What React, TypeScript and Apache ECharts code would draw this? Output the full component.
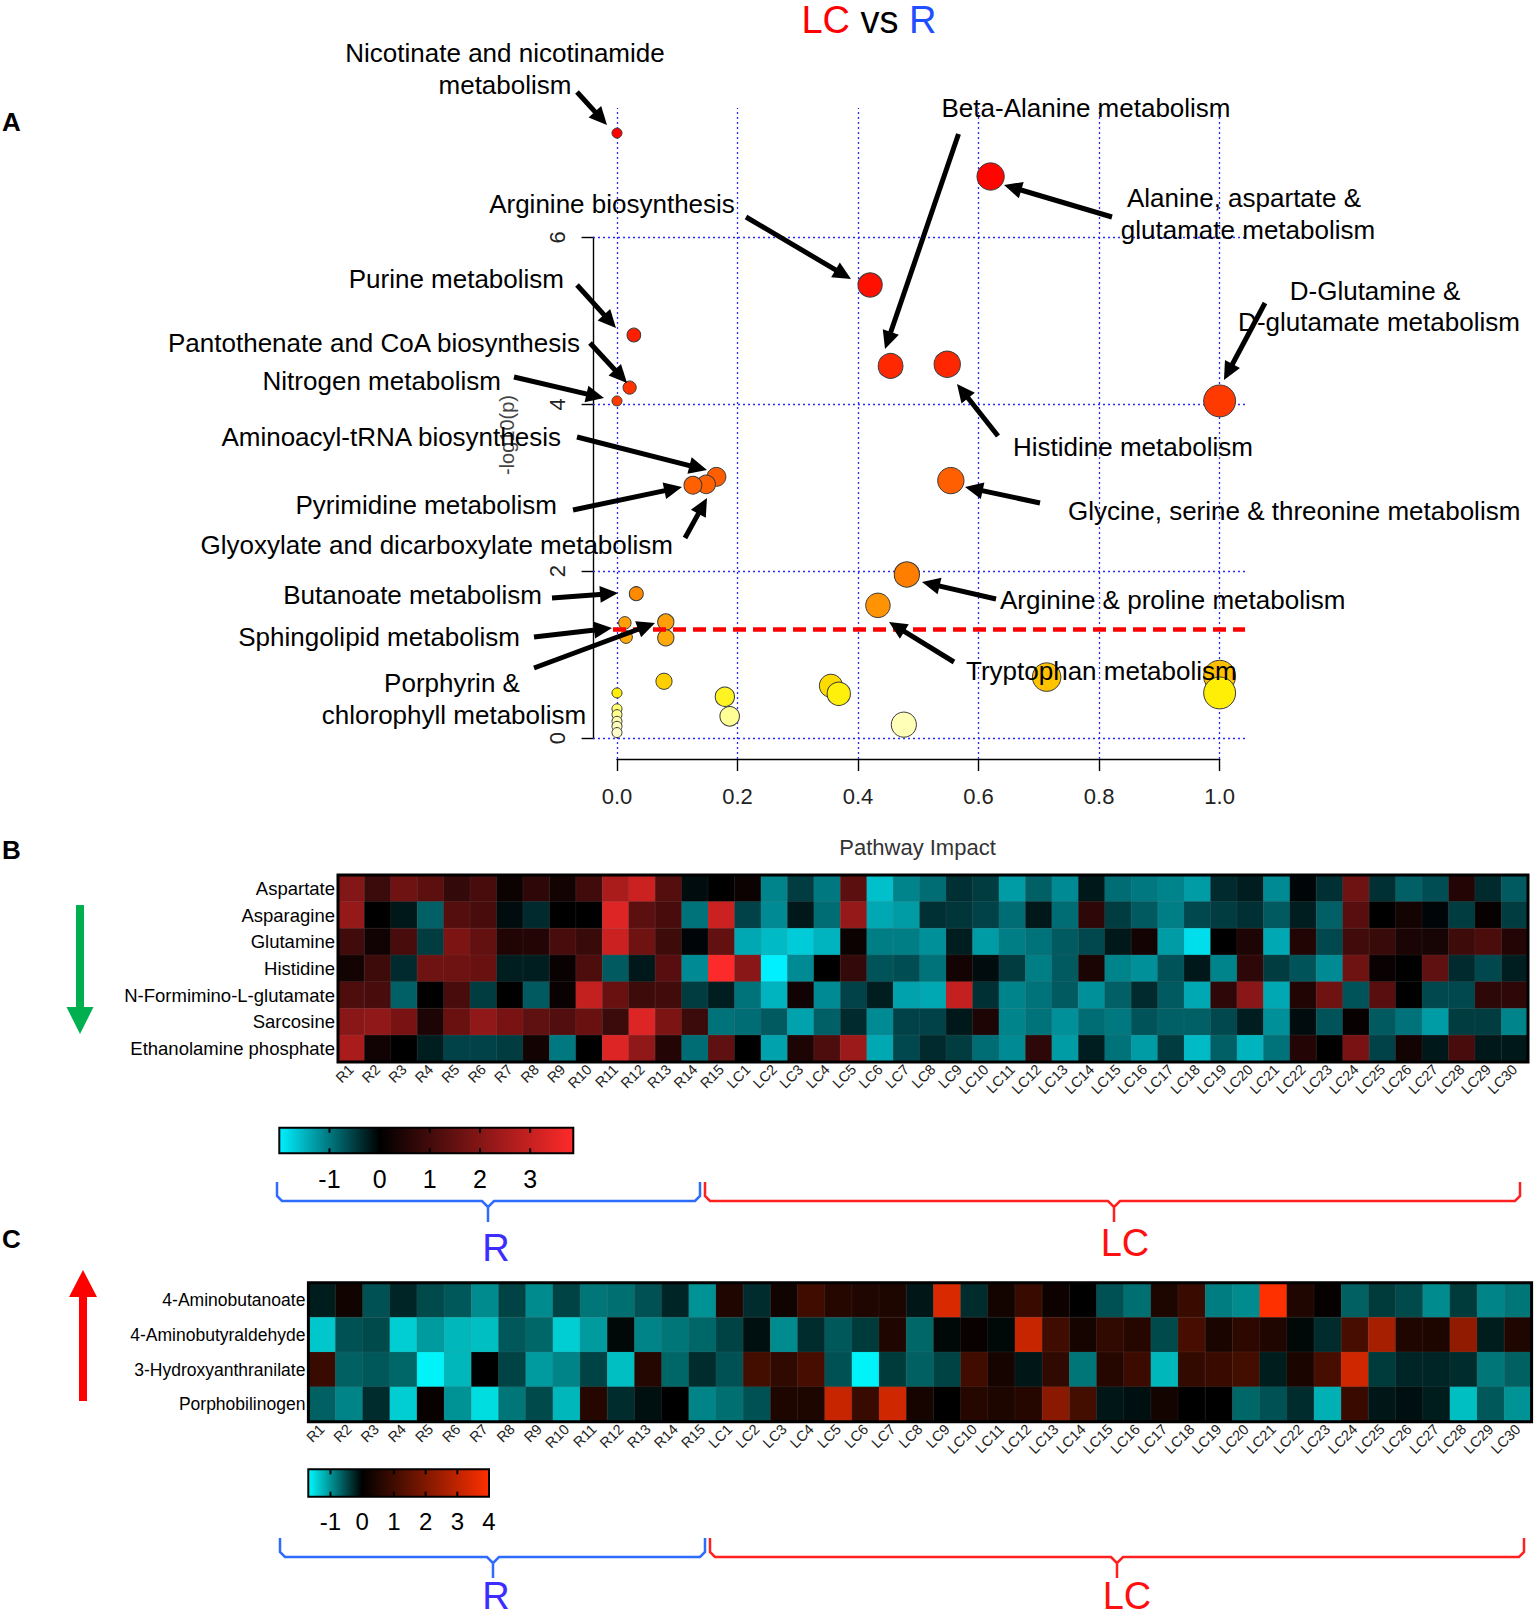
import React, { useEffect, useRef } from "react";
import * as echarts from "echarts";

const W = 1535;
const H = 1619;
const FONT = "'Liberation Sans', Arial, Helvetica, sans-serif";

// ---------------- Panel A : pathway analysis ----------------
const pathwayNames = [
  "Nicotinate and nicotinamide metabolism", "Alanine, aspartate & glutamate metabolism", "Arginine biosynthesis",
  "Purine metabolism", "Pantothenate and CoA biosynthesis", "Nitrogen metabolism", "Beta-Alanine metabolism",
  "Histidine metabolism", "D-Glutamine & D-glutamate metabolism", "Aminoacyl-tRNA biosynthesis",
  "Pyrimidine metabolism", "Glyoxylate and dicarboxylate metabolism", "Glycine, serine & threonine metabolism",
  "Arginine & proline metabolism", "Tryptophan metabolism", "Butanoate metabolism", "Sphingolipid metabolism",
  "Porphyrin & chlorophyll metabolism", "", "", "", "", "", "", "", "", "", "", "", "", "", "", "", "", "",
];
const pathwayImpact = [
  0.0, 0.62, 0.42, 0.028, 0.021, 0.0, 0.454, 0.548, 1.0, 0.165, 0.126, 0.148, 0.554, 0.481, 0.433, 0.032,
  0.013, 0.081, 0.081, 0.015, 0.078, 0.0, 0.179, 0.187, 0.355, 0.368, 0.476, 0.713, 1.0, 1.0, 0.0, 0.0, 0.0,
  0.0, 0.0,
];
const pathwayLogP = [
  7.25, 6.73, 5.43, 4.83, 4.2, 4.04, 4.46, 4.48, 4.04, 3.13, 3.03, 3.04, 3.085, 1.96, 1.59, 1.73, 1.38, 1.39,
  1.2, 1.21, 0.68, 0.54, 0.495, 0.26, 0.626, 0.53, 0.16, 0.73, 0.74, 0.54, 0.35, 0.28, 0.2, 0.14, 0.065,
];
const impactTicks = [0, 0.2, 0.4, 0.6, 0.8, 1.0];
const logPTicks = [0, 2, 4, 6];
const pThreshold = 1.3;

// ---------------- Panels B / C : heatmaps ----------------
const samples = [
  "R1", "R2", "R3", "R4", "R5", "R6", "R7", "R8", "R9", "R10", "R11", "R12", "R13", "R14", "R15",
  "LC1", "LC2", "LC3", "LC4", "LC5", "LC6", "LC7", "LC8", "LC9", "LC10", "LC11", "LC12", "LC13", "LC14", "LC15",
  "LC16", "LC17", "LC18", "LC19", "LC20", "LC21", "LC22", "LC23", "LC24", "LC25", "LC26", "LC27", "LC28", "LC29", "LC30",
];
const downMetabolites = [
  "Aspartate", "Asparagine", "Glutamine", "Histidine", "N-Formimino-L-glutamate", "Sarcosine", "Ethanolamine phosphate",
];
const aspartate = [2.0, 0.9, 1.7, 1.4, 0.8, 1.1, 0.2, 0.7, 0.3, 1.0, 2.6, 3.1, 1.3, -0.1, 0.0, 0.2, -1.1, -0.5, -1.0, 1.4, -1.6, -1.1, -0.9, -0.4, -0.5, -1.3, -0.8, -1.15, -0.2, -0.9, -1.0, -1.1, -1.3, -0.35, -0.25, -1.15, -0.05, -0.4, 1.7, -0.4, -0.8, -0.65, 0.55, -0.35, -0.75];
const asparagine = [2.3, 0.0, -0.2, -0.8, 1.3, 1.1, -0.1, -0.35, 0.0, 0.0, 3.4, 1.4, 1.1, -0.95, 3.1, -0.55, -1.15, -0.2, -0.9, 2.3, -1.4, -1.3, -0.4, -0.45, -0.55, -0.9, -0.2, -0.9, 0.7, -0.5, -0.75, -1.05, -0.6, -0.5, -0.4, -0.75, -0.25, -0.8, 1.35, 0.0, 0.3, -0.05, -0.5, 0.1, -0.5];
const glutamine = [1.0, 0.25, 1.1, -0.5, 1.9, 1.5, 0.5, 0.55, 1.1, 0.85, 3.1, 1.7, 0.95, -0.05, 1.5, -1.4, -1.55, -1.7, -1.5, 0.2, -1.05, -1.05, -1.2, -0.25, -1.3, -1.05, -0.95, -0.75, -0.6, -0.2, 0.3, -1.3, -1.85, 0.0, 0.45, -1.4, 0.5, -0.6, 1.0, 0.85, 0.4, 0.35, 0.95, 1.15, 0.55];
const histidine = [0.3, 0.95, -0.35, 1.7, 1.7, 1.6, -0.25, -0.25, 0.15, 1.2, -0.75, -0.2, 1.35, -1.15, 3.86, 2.1, -2.0, -1.15, 0.0, 0.8, -0.7, -0.65, -0.95, 0.3, -0.1, -0.5, -1.05, -0.75, 0.4, -1.1, -1.2, -0.7, -0.2, -1.1, 0.7, -0.5, -0.7, -1.15, 1.7, 0.15, 0.0, 1.45, -0.35, -0.6, -0.25];
const nFormimino = [1.2, 1.1, -0.8, 0.0, 1.1, -0.5, 0.0, -0.75, 0.15, 3.0, 1.6, 0.95, 1.0, -0.5, -0.25, -0.95, -1.5, 0.25, -1.15, -0.55, -0.25, -1.35, -1.4, 3.0, -0.4, -1.1, -0.95, -0.75, -1.2, -0.8, -0.35, -0.75, -1.4, 0.7, 2.1, -1.4, 0.5, 1.7, -0.7, 1.35, 0.0, -0.6, -0.6, 0.7, 0.7];
const sarcosine = [2.1, 2.2, 1.85, 0.45, 1.6, 2.2, 1.85, 1.45, 1.25, 1.6, 0.9, 3.4, 1.9, 0.9, -0.95, -0.9, -0.75, -1.35, -0.8, -0.35, -1.15, -0.55, -0.55, -0.2, 0.45, -1.1, -0.95, -1.2, -0.9, -1.0, -0.7, -0.8, -0.8, -0.6, -0.25, -1.2, -0.1, -0.7, 0.1, -0.75, -0.95, -1.3, -0.5, -0.5, -1.1];
const ethanolaminePhosphate = [2.6, 0.25, 0.0, -0.25, -0.55, -0.55, -0.5, 0.3, -1.0, 0.0, 3.4, 2.2, 0.55, -0.9, 1.45, 0.0, -1.35, 0.45, 1.2, 2.4, -1.4, -0.6, -0.35, -0.5, -0.9, -1.15, 0.7, -1.3, -0.25, -0.95, -1.3, -0.5, -1.55, -0.8, -1.5, -0.95, 0.55, 0.0, 1.85, -0.55, 0.3, -0.2, 1.1, -0.2, -0.2];

const upMetabolites = ["4-Aminobutanoate", "4-Aminobutyraldehyde", "3-Hydroxyanthranilate", "Porphobilinogen"];
const aminobutanoate = [-0.2, 0.25, -0.55, -0.25, -0.5, -0.6, -0.95, -0.45, -0.95, -0.45, -0.8, -0.75, -0.55, -0.25, -1.0, 0.5, -0.3, 0.25, 1.0, 0.6, 0.5, 0.45, -0.15, 3.4, -0.3, 0.3, 0.9, 0.2, 0.0, -0.55, -0.75, 0.45, 0.9, -0.85, -0.95, 4.0, 0.5, 0.1, -0.65, -0.4, -0.5, -0.95, -0.4, -0.9, -0.8];
const aminobutyraldehyde = [-1.35, -0.55, -0.5, -1.4, -1.05, -1.25, -1.3, -0.6, -0.7, -1.4, -1.05, -0.05, -0.9, -0.8, -0.7, -0.45, -0.1, -0.95, -0.3, -0.6, -0.4, 0.5, -0.7, -0.05, 0.15, -0.05, 3.1, 1.0, 0.35, 0.75, 0.6, -0.5, 1.1, 0.4, 0.7, 0.5, -0.05, -0.3, 1.1, 2.6, 0.5, 0.45, 2.25, -0.2, 0.5];
const hydroxyanthranilate = [0.9, -0.65, -0.6, -0.7, -1.65, -1.25, 0.0, -0.45, -1.05, -0.9, -0.45, -1.3, 0.55, -0.7, -0.3, -0.55, 1.05, 0.75, 1.1, -0.55, -1.65, -0.4, -0.65, -0.45, 1.0, 0.35, -0.15, 0.75, -0.8, 0.6, 0.95, -1.25, 0.8, 0.9, 1.05, -0.2, 0.4, 1.1, 3.25, -0.4, -0.25, -0.25, -0.3, -0.8, -0.65];
const porphobilinogen = [-0.65, -0.9, -0.3, -1.4, 0.15, -1.0, -1.5, -0.8, -0.5, -1.25, 0.6, -0.3, -0.1, 0.0, -0.9, -0.75, -0.55, 0.45, 0.45, 3.1, 0.9, 3.25, 0.35, 0.0, 0.6, 0.45, 0.6, 2.15, 1.05, -0.15, -0.1, 0.3, 0.0, 0.0, -0.7, -0.55, -0.3, -1.2, 0.9, -0.15, -0.1, -0.2, -1.3, -0.6, -1.0];

const barBTicks = [-1, 0, 1, 2, 3];
const barCTicks = [-1, 0, 1, 2, 3, 4];

// ---------------- helpers ----------------
const hex = (r: number, g: number, b: number) =>
  "#" + [r, g, b].map((v) => Math.max(0, Math.min(255, Math.round(v))).toString(16).padStart(2, "0")).join("");

function scaleColors(min: number, max: number, neg: number[], pos: number[]) {
  const n = Math.round((max - min) * 10);
  const out: string[] = [];
  for (let i = 0; i <= n; i++) {
    const v = min + i / 10;
    const t = v < 0 ? v / min : v / max;
    const c = v < 0 ? neg : pos;
    out.push(hex(c[0] * t, c[1] * t, c[2] * t));
  }
  return out;
}

const heatStops: [number, number[]][] = [
  [0, [255, 255, 215]], [0.2, [255, 255, 175]], [0.4, [255, 255, 90]], [0.55, [255, 238, 0]],
  [0.75, [255, 190, 0]], [1.3, [255, 165, 10]], [1.7, [255, 140, 0]], [2.0, [255, 124, 0]],
  [3.1, [255, 95, 0]], [4.0, [255, 60, 0]], [4.5, [255, 38, 0]], [5.4, [255, 16, 0]], [7.3, [255, 0, 0]],
];
function heatColor(v: number) {
  for (let i = 1; i < heatStops.length; i++) {
    const [v1, c1] = heatStops[i];
    const [v0, c0] = heatStops[i - 1];
    if (v <= v1) {
      const t = (v - v0) / (v1 - v0);
      return hex(c0[0] + (c1[0] - c0[0]) * t, c0[1] + (c1[1] - c0[1]) * t, c0[2] + (c1[2] - c0[2]) * t);
    }
  }
  return "#ff0000";
}

function txt(text: string, x: number, y: number, align = "center", size = 26, color = "#000", extra: any = {}) {
  return {
    type: "text", x, y, z: 60, ...extra,
    style: {
      text, fontSize: size, fontFamily: FONT, fill: color,
      textAlign: align, align, textVerticalAlign: "middle", verticalAlign: "middle",
      fontWeight: extra.fontWeight || "normal",
    },
  };
}

function arrow(x1: number, y1: number, x2: number, y2: number) {
  const hl = 18, hw = 8.5;
  const dx = x2 - x1, dy = y2 - y1;
  const L = Math.hypot(dx, dy);
  const ux = dx / L, uy = dy / L;
  const bx = x2 - ux * hl, by = y2 - uy * hl;
  const px = -uy, py = ux;
  return [
    { type: "line", z: 50, shape: { x1, y1, x2: bx + ux * 3, y2: by + uy * 3 }, style: { stroke: "#000", lineWidth: 5 } },
    {
      type: "polygon", z: 50,
      shape: { points: [[x2, y2], [bx + px * hw, by + py * hw], [bx - px * hw, by - py * hw]] },
      style: { fill: "#000" },
    },
  ];
}

function colorbar(x: number, y: number, w: number, h: number, min: number, max: number, neg: string, pos: string,
  ticks: number[], labelY: number, fs: number) {
  const els: any[] = [
    {
      type: "rect", z: 60, shape: { x, y, width: w, height: h },
      style: {
        fill: {
          type: "linear", x: 0, y: 0, x2: 1, y2: 0, global: false,
          colorStops: [{ offset: 0, color: neg }, { offset: -min / (max - min), color: "#000" }, { offset: 1, color: pos }],
        },
        stroke: "#000", lineWidth: 2,
      },
    },
  ];
  ticks.forEach((t) => {
    const tx = x + ((t - min) / (max - min)) * w;
    els.push({ type: "line", z: 61, shape: { x1: tx, y1: y, x2: tx, y2: y + 5 }, style: { stroke: "#000", lineWidth: 2 } });
    els.push({ type: "line", z: 61, shape: { x1: tx, y1: y + h - 5, x2: tx, y2: y + h }, style: { stroke: "#000", lineWidth: 2 } });
    els.push(txt(String(t), tx, labelY, "center", fs));
  });
  return els;
}

function brace(x0: number, x1: number, xm: number, y: number, color: string) {
  return {
    type: "polyline", z: 60,
    shape: {
      points: [[x0, y - 19], [x0, y - 5], [x0 + 5, y], [xm - 6, y], [xm, y + 6], [xm, y + 21], [xm, y + 6],
        [xm + 6, y], [x1 - 5, y], [x1, y - 5], [x1, y - 19]],
    },
    style: { stroke: color, lineWidth: 2.5, fill: null },
  };
}

export default function App() {
  const ref = useRef<HTMLDivElement>(null);

  useEffect(() => {
    document.body.style.margin = "0";
    document.body.style.overflow = "hidden";
    const chart = echarts.init(ref.current as HTMLDivElement, null, { renderer: "svg" });

    const bubbles = pathwayImpact
      .map((x, i) => ({ name: pathwayNames[i], value: [x, pathwayLogP[i]] }))
      .sort((a, b) => b.value[1] - a.value[1]);

    const downRows = [aspartate, asparagine, glutamine, histidine, nFormimino, sarcosine, ethanolaminePhosphate];
    const upRows = [aminobutanoate, aminobutyraldehyde, hydroxyanthranilate, porphobilinogen];
    const heatB = downRows.flatMap((row, r) => row.map((v, c) => [c, r, v]));
    const heatC = upRows.flatMap((row, r) => row.map((v, c) => [c, r, v]));

    const graphic: any[] = [];
    // title
    graphic.push({
      type: "text", x: 869, y: 20, z: 60,
      style: {
        text: "{r|LC} {k|vs} {b|R}", fontSize: 38, fontFamily: FONT,
        textAlign: "center", align: "center", textVerticalAlign: "middle", verticalAlign: "middle",
        rich: {
          r: { fill: "#ff0000", fontSize: 38, fontFamily: FONT, lineHeight: 40 },
          k: { fill: "#000000", fontSize: 38, fontFamily: FONT, lineHeight: 40 },
          b: { fill: "#1f4fff", fontSize: 38, fontFamily: FONT, lineHeight: 40 },
        },
      },
    });
    // panel letters
    graphic.push(txt("A", 2, 122, "left", 26, "#000", { fontWeight: "bold" }));
    graphic.push(txt("B", 2, 850, "left", 26, "#000", { fontWeight: "bold" }));
    graphic.push(txt("C", 2, 1239, "left", 26, "#000", { fontWeight: "bold" }));
    // axis titles
    graphic.push(txt("-log10(p)", 507, 435, "center", 20, "#444", { rotation: Math.PI / 2, z: 40 }));
    graphic.push(txt("Pathway Impact", 917.5, 847, "center", 22, "#333"));

    // annotations
    const labels: [string, number, number, string][] = [
      ["Nicotinate and nicotinamide", 505, 53, "center"],
      ["metabolism", 505, 85, "center"],
      ["Arginine biosynthesis", 612, 204, "center"],
      ["Purine metabolism", 564, 279, "right"],
      ["Pantothenate and CoA biosynthesis", 580, 343, "right"],
      ["Nitrogen metabolism", 501, 381, "right"],
      ["Aminoacyl-tRNA biosynthesis", 561, 437, "right"],
      ["Pyrimidine metabolism", 557, 505, "right"],
      ["Glyoxylate and dicarboxylate metabolism", 673, 545, "right"],
      ["Butanoate metabolism", 542, 595, "right"],
      ["Sphingolipid metabolism", 520, 637, "right"],
      ["Porphyrin &", 452, 683, "center"],
      ["chlorophyll metabolism", 454, 715, "center"],
      ["Beta-Alanine metabolism", 1086, 108, "center"],
      ["Alanine, aspartate &", 1244, 198, "center"],
      ["glutamate metabolism", 1248, 230, "center"],
      ["D-Glutamine &", 1375, 291, "center"],
      ["D-glutamate metabolism", 1379, 322, "center"],
      ["Histidine metabolism", 1013, 447, "left"],
      ["Glycine, serine & threonine metabolism", 1068, 511, "left"],
      ["Arginine & proline metabolism", 1000, 600, "left"],
      ["Tryptophan metabolism", 966, 671, "left"],
    ];
    labels.forEach(([t, x, y, a]) => graphic.push(txt(t, x, y, a)));

    const arrows: number[][] = [
      [577, 92, 607, 125], [746, 217, 851, 279], [958.5, 134, 885, 349], [1112, 217, 1004, 185],
      [1265, 303, 1224, 380], [577, 285, 616, 328], [590, 343, 627, 383], [514, 377, 604, 398],
      [998, 436, 957, 384], [577, 437, 707, 470], [573, 510, 682, 487], [685, 538, 707, 498],
      [1040, 503, 965, 487], [552, 598, 618, 593], [996, 599, 922, 582], [534, 637, 612, 628],
      [534, 668, 655, 623], [954, 662, 889, 622],
    ];
    arrows.forEach((a) => graphic.push(...arrow(a[0], a[1], a[2], a[3])));

    // heatmap borders
    graphic.push({ type: "rect", z: 100, shape: { x: 338, y: 875, width: 1190, height: 187 }, style: { fill: null, stroke: "#000", lineWidth: 3 } });
    graphic.push({ type: "rect", z: 100, shape: { x: 308.4, y: 1282.7, width: 1223.2, height: 139 }, style: { fill: null, stroke: "#000", lineWidth: 3 } });

    // colour bars
    graphic.push(...colorbar(279.3, 1127.7, 294, 25.6, -2, 3.86, "#00f0ff", "#ff2a2a", barBTicks, 1179, 25));
    graphic.push(...colorbar(308.3, 1469.3, 180.7, 27.4, -1.7, 4.0, "#00faff", "#ff3000", barCTicks, 1521, 24));

    // braces + group labels
    graphic.push(brace(277, 700, 488, 1201, "#2f6bff"));
    graphic.push(brace(705, 1520, 1114, 1201, "#ff2020"));
    graphic.push(txt("R", 496, 1248, "center", 38, "#3c2cff"));
    graphic.push(txt("LC", 1125, 1243, "center", 38, "#ff1010"));
    graphic.push(brace(280, 705, 493, 1557, "#2f6bff"));
    graphic.push(brace(710, 1524, 1117, 1557, "#ff2020"));
    graphic.push(txt("R", 496, 1596, "center", 38, "#3c2cff"));
    graphic.push(txt("LC", 1127, 1596, "center", 38, "#ff1010"));

    // big direction arrows
    graphic.push({
      type: "polygon", z: 60,
      shape: { points: [[76, 905], [84, 905], [84, 1007], [93.5, 1007], [80, 1034], [66.5, 1007], [76, 1007]] },
      style: { fill: "#00b050" },
    });
    graphic.push({
      type: "polygon", z: 60,
      shape: { points: [[79, 1401], [87, 1401], [87, 1297], [97, 1297], [83, 1270], [69, 1297], [79, 1297]] },
      style: { fill: "#ff0000" },
    });

    const axisLbl = { fontFamily: FONT, color: "#222" };

    const option: any = {
      animation: false,
      textStyle: { fontFamily: FONT },
      grid: [
        { left: 593, top: 108, width: 652, height: 651 },
        { left: 617, top: 237.4, width: 602.6, height: 500.6 },
        { left: 338, top: 875, width: 1190, height: 187 },
        { left: 308.4, top: 1282.7, width: 1223.2, height: 139 },
      ],
      xAxis: [
        { gridIndex: 0, type: "value", min: -0.0398, max: 1.0421, show: false, splitLine: { show: false } },
        {
          gridIndex: 1, type: "value", min: 0, max: 1, interval: 0.2, position: "bottom", offset: 21,
          axisLine: { show: true, onZero: false, lineStyle: { color: "#000", width: 1.4 } },
          axisTick: { show: true, length: 12, lineStyle: { color: "#000", width: 1.4 } },
          axisLabel: { ...axisLbl, margin: 26, fontSize: 22, formatter: (v: number) => v.toFixed(1) },
          splitLine: { show: false },
        },
        {
          gridIndex: 2, type: "category", data: samples,
          axisLine: { show: false }, axisTick: { show: false }, splitLine: { show: false },
          axisLabel: { ...axisLbl, interval: 0, rotate: 45, fontSize: 14.5, margin: 5 },
        },
        {
          gridIndex: 3, type: "category", data: samples,
          axisLine: { show: false }, axisTick: { show: false }, splitLine: { show: false },
          axisLabel: { ...axisLbl, interval: 0, rotate: 45, fontSize: 14.5, margin: 5 },
        },
      ],
      yAxis: [
        { gridIndex: 0, type: "value", min: -0.2517, max: 7.551, show: false, splitLine: { show: false } },
        {
          gridIndex: 1, type: "value", min: 0, max: 6, interval: 2, position: "left", offset: 23.4,
          axisLine: { show: true, onZero: false, lineStyle: { color: "#000", width: 1.4 } },
          axisTick: { show: true, length: 12, lineStyle: { color: "#000", width: 1.4 } },
          axisLabel: { ...axisLbl, margin: 25, fontSize: 22, rotate: 90 },
          splitLine: { show: false },
        },
        {
          gridIndex: 2, type: "category", data: downMetabolites, inverse: true,
          axisLine: { show: false }, axisTick: { show: false }, splitLine: { show: false },
          axisLabel: { fontFamily: FONT, color: "#000", fontSize: 18.5, margin: 3 },
        },
        {
          gridIndex: 3, type: "category", data: upMetabolites, inverse: true,
          axisLine: { show: false }, axisTick: { show: false }, splitLine: { show: false },
          axisLabel: { fontFamily: FONT, color: "#000", fontSize: 17.5, margin: 3 },
        },
      ],
      visualMap: [
        {
          type: "continuous", show: false, seriesIndex: 3, dimension: 2, min: -2, max: 3.9,
          inRange: { color: scaleColors(-2, 3.9, [0, 240, 255], [255, 42, 42]) },
        },
        {
          type: "continuous", show: false, seriesIndex: 4, dimension: 2, min: -1.7, max: 4.0,
          inRange: { color: scaleColors(-1.7, 4.0, [0, 250, 255], [255, 48, 0]) },
        },
      ],
      series: [
        {
          type: "scatter", xAxisIndex: 0, yAxisIndex: 0, data: [], z: 1, silent: true,
          markLine: {
            z: 1, silent: true, symbol: "none", label: { show: false }, animation: false,
            lineStyle: { color: "#2a2aff", type: [2, 3], width: 1.3 },
            data: [...impactTicks.map((v) => ({ xAxis: v })), ...logPTicks.map((v) => ({ yAxis: v }))],
          },
        },
        {
          type: "scatter", xAxisIndex: 0, yAxisIndex: 0, z: 3, data: bubbles,
          symbolSize: (val: number[]) => 10 + 22 * Math.sqrt(val[0]),
          itemStyle: { color: (p: any) => heatColor(p.value[1]), borderColor: "#3a3a3a", borderWidth: 1, opacity: 1 },
          emphasis: { disabled: true },
        },
        {
          type: "scatter", xAxisIndex: 0, yAxisIndex: 0, data: [], z: 5, silent: true,
          markLine: {
            z: 5, silent: true, symbol: "none", label: { show: false }, animation: false,
            lineStyle: { color: "#ff0000", type: [13, 7], width: 4.5 },
            data: [{ yAxis: pThreshold }],
          },
        },
        {
          type: "heatmap", xAxisIndex: 2, yAxisIndex: 2, data: heatB,
          itemStyle: { borderColor: "rgba(120,120,120,0.3)", borderWidth: 0.5 },
          emphasis: { disabled: true },
        },
        {
          type: "heatmap", xAxisIndex: 3, yAxisIndex: 3, data: heatC,
          itemStyle: { borderColor: "rgba(120,120,120,0.3)", borderWidth: 0.5 },
          emphasis: { disabled: true },
        },
      ],
      graphic,
    };

    chart.setOption(option);
    return () => chart.dispose();
  }, []);

  return (
    <div
      ref={ref}
      style={{ position: "absolute", left: 0, top: 0, width: W + "px", height: H + "px", background: "#fff" }}
    />
  );
}
